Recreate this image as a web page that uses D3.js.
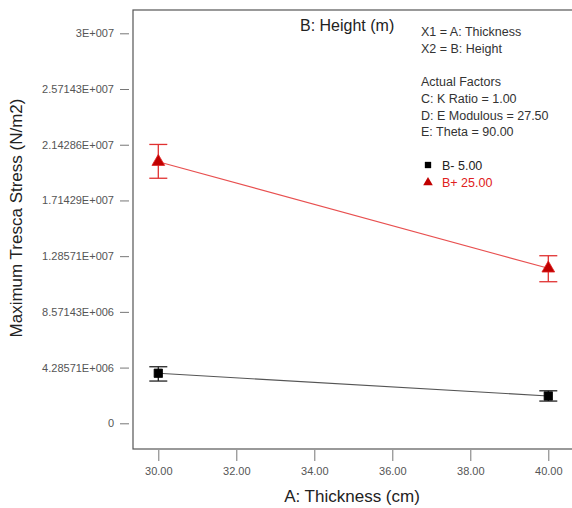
<!DOCTYPE html>
<html><head><meta charset="utf-8">
<script src="https://cdn.jsdelivr.net/npm/d3@7"></script>
<style>body{margin:0;background:#fff;overflow:hidden}svg{display:block}</style>
</head><body>
<script>
const thickness = [30, 40];
const lowMean = [3.85e6, 2.1e6];
const lowUpper = [4.35e6, 2.5e6];
const lowLower = [3.25e6, 1.71e6];
const highMean = [20.12e6, 11.92e6];
const highUpper = [21.45e6, 12.89e6];
const highLower = [18.85e6, 10.89e6];
const xTicks = [30, 32, 34, 36, 38, 40];
const yTicks = [0, 4285710, 8571430, 12857100, 17142900, 21428600, 25714300, 30000000];
const yTickLabels = ["0", "4.28571E+006", "8.57143E+006", "1.28571E+007", "1.71429E+007", "2.14286E+007", "2.57143E+007", "3E+007"];
const infoLines = ["X1 = A: Thickness", "X2 = B: Height", "", "Actual Factors", "C: K Ratio = 1.00", "D: E Modulous = 27.50", "E: Theta = 90.00"];
const legendLabels = ["B- 5.00", "B+ 25.00"];

const W = 572, H = 508;
const L = 133, R = 578, T = 10, B = 449;
const svg = d3.select("body").append("svg").attr("width", W).attr("height", H);
const font = "Arial, 'Liberation Sans', sans-serif";

const x = d3.scaleLinear().domain([30, 40]).range([158.3, 548.3]);
const y = d3.scaleLinear().domain([0, 3e7]).range([423.3, 33.3]);

// frame
svg.append("rect").attr("x", L).attr("y", T).attr("width", R - L).attr("height", B - T)
  .attr("fill", "none").attr("stroke", "#555").attr("stroke-width", 1.2);

// y axis
const yAxis = d3.axisLeft(y).tickValues(yTicks).tickSize(9).tickPadding(6)
  .tickFormat((d, i) => yTickLabels[i]);
const gy = svg.append("g").attr("transform", `translate(${L - 4},0)`).call(yAxis);
gy.select(".domain").remove();
gy.selectAll(".tick line").attr("stroke", "#777");
gy.selectAll(".tick text").attr("fill", "#555").style("font", `11px ${font}`);

// x axis
const xAxis = d3.axisBottom(x).tickValues(xTicks).tickSize(11).tickPadding(6)
  .tickFormat(d3.format(".2f"));
const gx = svg.append("g").attr("transform", `translate(0,${B + 1})`).call(xAxis);
gx.select(".domain").remove();
gx.selectAll(".tick line").attr("stroke", "#777");
gx.selectAll(".tick text").attr("fill", "#555").style("font", `11px ${font}`);

// axis titles
svg.append("text").attr("x", 352).attr("y", 502).attr("text-anchor", "middle")
  .attr("fill", "#222").style("font", `17px ${font}`).text("A: Thickness (cm)");
svg.append("text").attr("transform", "translate(22,218) rotate(-90)").attr("text-anchor", "middle")
  .attr("fill", "#222").style("font", `17px ${font}`).text("Maximum Tresca Stress (N/m2)");

// series
const series = [
  {mean: lowMean, up: lowUpper, lo: lowLower, line: "#555", bar: "#222", fill: "#000", stroke: "#000", sym: d3.symbolSquare},
  {mean: highMean, up: highUpper, lo: highLower, line: "#e85050", bar: "#e03030", fill: "#c00000", stroke: "#e02020", sym: d3.symbolTriangle}
];
series.forEach(s => {
  const pts = thickness.map((t, i) => ({t, m: s.mean[i], u: s.up[i], l: s.lo[i]}));
  svg.append("path").datum(pts).attr("fill", "none").attr("stroke", s.line).attr("stroke-width", 1.1)
    .attr("d", d3.line().x(d => x(d.t)).y(d => y(d.m)));
  const g = svg.append("g").attr("stroke", s.bar).attr("stroke-width", 1.3);
  pts.forEach(p => {
    g.append("line").attr("x1", x(p.t)).attr("x2", x(p.t)).attr("y1", y(p.u)).attr("y2", y(p.l));
    g.append("line").attr("x1", x(p.t) - 9).attr("x2", x(p.t) + 9).attr("y1", y(p.u)).attr("y2", y(p.u));
    g.append("line").attr("x1", x(p.t) - 9).attr("x2", x(p.t) + 9).attr("y1", y(p.l)).attr("y2", y(p.l));
  });
  svg.append("g").selectAll("path").data(pts).join("path")
    .attr("transform", d => `translate(${x(d.t)},${y(d.m)})`)
    .attr("d", d3.symbol().type(s.sym).size(70))
    .attr("fill", s.fill).attr("stroke", s.stroke).attr("stroke-width", 0.8);
});

// legend title
svg.append("text").attr("x", 300).attr("y", 31).attr("fill", "#222")
  .style("font", `16px ${font}`).text("B: Height (m)");
// info
infoLines.forEach((t, i) => {
  if (!t) return;
  svg.append("text").attr("x", 421).attr("y", 36 + i * 16.7).attr("fill", "#333")
    .style("font", `12.5px ${font}`).text(t);
});
// legend items
const legColors = ["#222", "#e02020"];
const legSyms = [d3.symbolSquare, d3.symbolTriangle];
const legFill = ["#000", "#c00000"];
legendLabels.forEach((t, i) => {
  const yy = 165 + i * 17.5;
  svg.append("path").attr("transform", `translate(428,${yy})`)
    .attr("d", d3.symbol().type(legSyms[i]).size(40)).attr("fill", legFill[i]);
  svg.append("text").attr("x", 442).attr("y", yy + 4.5).attr("fill", legColors[i])
    .style("font", `12.5px ${font}`).text(t);
});
</script>
</body></html>
